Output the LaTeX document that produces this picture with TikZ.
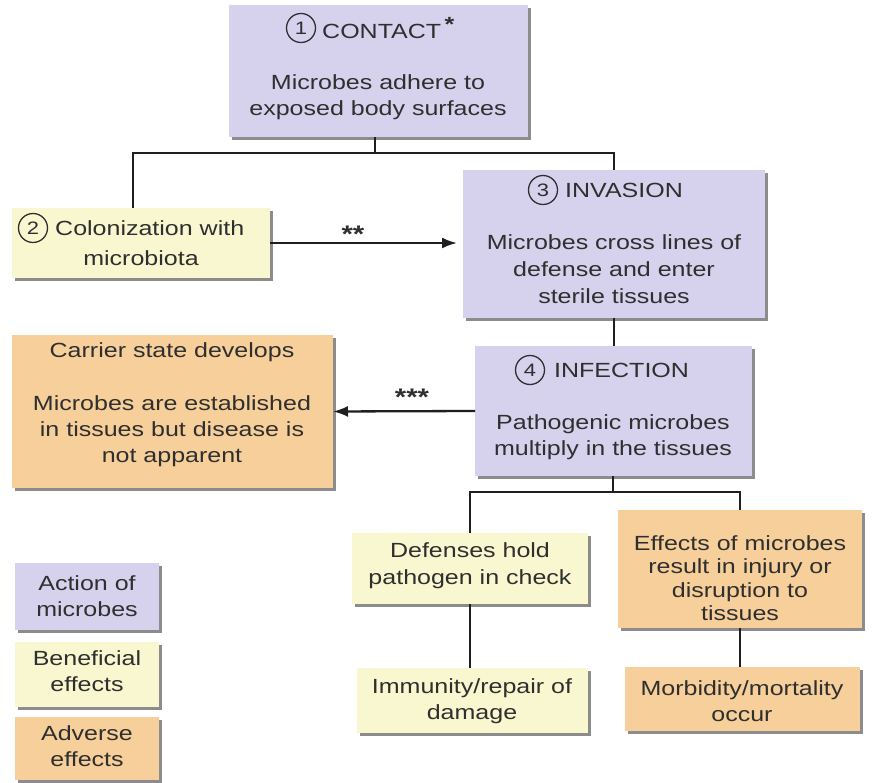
\documentclass[tikz,border=0pt]{standalone}
\usepackage{fontspec}
\setmainfont{Liberation Sans}[FakeStretch=1.22]
\usetikzlibrary{arrows.meta,shadows}
\definecolor{lav}{HTML}{D6D1EC}
\definecolor{yel}{HTML}{F8F7D0}
\definecolor{ora}{HTML}{F6CF9A}
\definecolor{shad}{HTML}{8C8C8C}
\definecolor{txtc}{HTML}{2F2F2F}
\begin{document}
\begin{tikzpicture}[x=1pt,y=-1pt,
  box/.style={rectangle, inner sep=0pt, outer sep=0pt, anchor=north west,
    drop shadow={shadow xshift=3pt, shadow yshift=-3pt, fill=shad, opacity=1}},
  sz/.style 2 args={minimum width=#1pt, minimum height=#2pt},
  lavbox/.style={box, fill=lav},
  yelbox/.style={box, fill=yel},
  orabox/.style={box, fill=ora},
  txt/.style={text=txtc, align=center, inner sep=0pt, font=\fontsize{20.5}{26}\selectfont},
  num/.style={circle, draw=txtc, line width=1.3pt, minimum size=29pt, inner sep=0pt,
    text=txtc, font=\fontsize{18}{18}\selectfont},
  conn/.style={line width=2.3pt, draw=black!88},
  arr/.style={conn, -{Latex[length=15pt,width=11pt]}},
  stars/.style={text=txtc, inner sep=0pt, font=\fontsize{24}{24}\selectfont\bfseries}
]
\useasboundingbox[fill=white] (0,0) rectangle (876,783);

% boxes
\node[lavbox, sz={299}{132}] (contact) at (229,5) {};
\node[yelbox, sz={258}{70}] (colon) at (12,208) {};
\node[lavbox, sz={302}{148}] (invasion) at (463,170) {};
\node[orabox, sz={321}{153}] (carrier) at (12,335) {};
\node[lavbox, sz={277}{130}] (infection) at (475,346) {};
\node[yelbox, sz={236}{71}] (defense) at (352,533) {};
\node[orabox, sz={244}{118}] (effects) at (618,510) {};
\node[yelbox, sz={231}{65}] (immunity) at (357,668) {};
\node[orabox, sz={235}{64}] (morbid) at (625,667) {};
\node[lavbox, sz={144}{67}] (legact) at (15,563) {};
\node[yelbox, sz={144}{65}] (legben) at (15,642) {};
\node[orabox, sz={144}{63}] (legadv) at (15,717) {};

% texts
\node[num] (n1) at (301,28) {1};
\node[txt, anchor=west] (t1) at (322,28) {CONTACT\,\raisebox{0.3em}{\bfseries *}};
\node[txt] (b1) at (378,97.5) {Microbes adhere to\\exposed body surfaces};

\node[num] (n2) at (33,228) {2};
\node[txt, anchor=west] (t2) at (55,228) {Colonization with};
\node[txt] (b2) at (141,258) {microbiota};

\node[num] (n3) at (543,190) {3};
\node[txt, anchor=west] (t3) at (565,190) {INVASION};
\node[txt, font=\fontsize{20.5}{27}\selectfont] (b3) at (614,269.5) {Microbes cross lines of\\defense and enter\\sterile tissues};

\node[txt] (t5) at (172,352) {Carrier state develops};
\node[txt] (b5) at (172,431.5) {Microbes are established\\in tissues but disease is\\not apparent};

\node[num] (n4) at (530,370) {4};
\node[txt, anchor=west] (t4) at (554,370) {INFECTION};
\node[txt] (b4) at (613,437.5) {Pathogenic microbes\\multiply in the tissues};

\node[txt, font=\fontsize{20.5}{27}\selectfont] (b6) at (470,566) {Defenses hold\\pathogen in check};
\node[txt, font=\fontsize{20.5}{23.5}\selectfont] (b7) at (740,578) {Effects of microbes\\result in injury or\\disruption to\\tissues};
\node[txt] (b8) at (472,701.5) {Immunity/repair of\\damage};
\node[txt] (b9) at (742,701) {Morbidity/mortality\\occur};

\node[txt] (l1) at (87,596) {Action of\\microbes};
\node[txt] (l2) at (87,671.5) {Beneficial\\effects};
\node[txt] (l3) at (87,746.5) {Adverse\\effects};

\node[stars] (s2) at (353,234) {**};
\node[stars] (s3) at (412,397) {***};

% connectors
\coordinate (j1) at (375,153);
\draw[conn] (contact.south -| j1) -- (j1);
\draw[conn] ([xshift=-8pt]colon.north) |- (j1) -| (invasion.north);
\draw[arr, shorten >=6pt] (colon.east) -- (colon.east -| invasion.west);
\draw[conn] (invasion.south) -- (infection.north -| invasion.south);
\draw[arr] (infection.west) -- (carrier.east);
\coordinate (j2) at (613,492);
\draw[conn] (infection.south -| j2) -- (j2);
\draw[conn] (defense.north) |- (j2) -| (effects.north);
\draw[conn] (defense.south) -- (defense.south |- immunity.north);
\draw[conn] (effects.south) -- (effects.south |- morbid.north);
\end{tikzpicture}
\end{document}
